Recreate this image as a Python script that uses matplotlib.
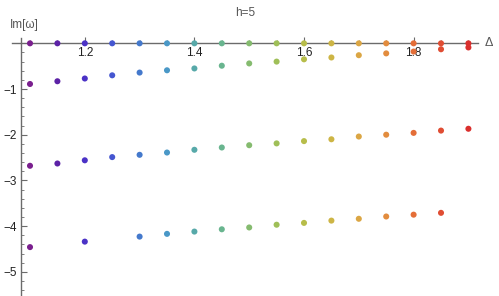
import numpy as np
import matplotlib
matplotlib.use("Agg")
import matplotlib.pyplot as plt
from matplotlib.colors import LinearSegmentedColormap
from matplotlib.ticker import MultipleLocator, FixedLocator

plt.rcParams['font.family'] = ['Liberation Sans', 'DejaVu Sans']

# Delta values (x)
delta = [1.10, 1.15, 1.20, 1.25, 1.30, 1.35, 1.40, 1.45, 1.50,
         1.55, 1.60, 1.65, 1.70, 1.75, 1.80, 1.85, 1.90]

# Im[omega] for the four branches (nan = no point)
im_mode0 = [0.0, 0.0, 0.0, 0.0, 0.0, 0.0, 0.0, 0.0, 0.0,
            0.0, 0.0, 0.0, 0.0, 0.0, 0.0, 0.0, 0.0]
im_mode1 = [-0.89, -0.83, -0.77, -0.70, -0.64, -0.59, -0.55, -0.49, -0.44,
            -0.40, -0.35, -0.31, -0.26, -0.22, -0.18, -0.13, -0.09]
im_mode2 = [-2.68, -2.63, -2.56, -2.49, -2.44, -2.39, -2.33, -2.28, -2.23,
            -2.19, -2.14, -2.10, -2.04, -2.00, -1.96, -1.91, -1.87]
im_mode3 = [-4.46, np.nan, -4.34, np.nan, -4.23, -4.17, -4.12, -4.07, -4.03,
            -3.97, -3.93, -3.88, -3.84, -3.79, -3.75, -3.71, np.nan]

x_ticks = [1.2, 1.4, 1.6, 1.8]
y_ticks = [-1, -2, -3, -4, -5]

# Mathematica-like "Rainbow" gradient
rainbow = LinearSegmentedColormap.from_list("rainbow_m", [
    "#7a1f8e", "#5a22a8", "#4a33c8", "#4558d0", "#4478cc", "#4a98c8",
    "#58aaa8", "#6ab58e", "#84bb70", "#9ebf58", "#b6bd4a", "#cdb545",
    "#dba744", "#e28e3e", "#e47038", "#e04f33", "#da2f2d"])

W, H = 499, 296
fig = plt.figure(figsize=(W / 100, H / 100), dpi=100)
# axes box in pixels: x 11.7..478, y 38.3..296
ax = fig.add_axes([11.7 / W, 0, (478 - 11.7) / W, 1 - 38.3 / H])
ax.set_xlim(1.0666, 1.9175)
ax.set_ylim(-5.53, 0.11)
ax.patch.set_visible(False)

d = np.array(delta)
cols = rainbow((d - d.min()) / (d.max() - d.min()))
for series in [im_mode3, im_mode2, im_mode1, im_mode0]:
    s = np.array(series)
    m = ~np.isnan(s)
    ax.scatter(d[m], s[m], s=19, c=cols[m], edgecolors='none', zorder=3)

axis_col = '#6b6b6b'
for sp in ['top', 'right']:
    ax.spines[sp].set_visible(False)
ax.spines['bottom'].set_position(('data', 0))
ax.spines['left'].set_position(('data', 1.084))
for sp in ['bottom', 'left']:
    ax.spines[sp].set_color(axis_col)
    ax.spines[sp].set_linewidth(1.0)

ax.xaxis.set_major_locator(FixedLocator(x_ticks))
ax.xaxis.set_minor_locator(MultipleLocator(0.05))
ax.yaxis.set_major_locator(FixedLocator(y_ticks))
ax.yaxis.set_minor_locator(MultipleLocator(0.2))
ax.set_xticklabels([f"{v:.1f}" for v in x_ticks])
ax.set_yticklabels([f"\u2212{abs(v)}" for v in y_ticks])
ax.tick_params(axis='both', which='major', direction='in', length=4, width=0.8,
               color=axis_col, labelsize=8.5, labelcolor='#222222', pad=3)
ax.tick_params(axis='both', which='minor', direction='in', length=2, width=0.6,
               color=axis_col)

fig.text(245 / W, 1 - 12.5 / H, "h=5", ha='center', va='center',
         fontsize=8.5, color='#555555')
fig.text(10 / W, 1 - 28 / H, "Im[\u03c9]", ha='left', va='baseline',
         fontsize=8.5, color='#555555')
fig.text(488.5 / W, 1 - 43.3 / H, "\u0394", ha='center', va='center',
         fontsize=9, color='#555555')

fig.savefig("out.png", dpi=100)
